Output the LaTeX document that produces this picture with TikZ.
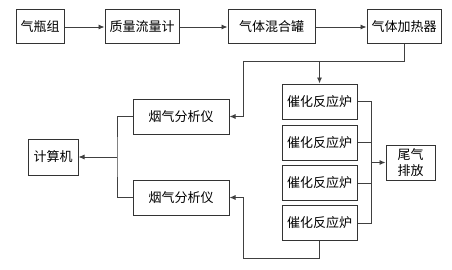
\documentclass[tikz,border=0pt]{standalone}
\usepackage{fontspec}
\newfontfamily\cjk{Noto Sans CJK SC}
\usetikzlibrary{arrows.meta}
\begin{document}
\begin{tikzpicture}[x=1pt,y=-1pt,
  boxn/.style={draw=black!80,line width=1pt,inner sep=0pt,minimum height=34pt,font=\cjk\fontsize{13}{15}\selectfont,align=center},
  ln/.style={draw=black!75,line width=0.9pt},
  arr/.style={ln,-{Latex[length=6pt,width=5pt]}}]
\fill[white] (0,0) rectangle (452,270);
\useasboundingbox (0,0) rectangle (452,270);
\node[boxn,minimum width=48pt] (b1) at (40,27) {气瓶组};
\node[boxn,minimum width=74pt] (b2) at (142,27) {质量流量计};
\node[boxn,minimum width=87pt] (b3) at (271.5,27) {气体混合罐};
\node[boxn,minimum width=74pt] (b4) at (404,27) {气体加热器};
\node[boxn,minimum width=75pt,minimum height=35pt] (r1) at (319.5,101.5) {催化反应炉};
\node[boxn,minimum width=75pt,minimum height=35pt] (r2) at (319.5,142.5) {催化反应炉};
\node[boxn,minimum width=75pt,minimum height=35pt] (r3) at (319.5,183) {催化反应炉};
\node[boxn,minimum width=75pt,minimum height=35pt] (r4) at (319.5,223) {催化反应炉};
\node[boxn,minimum width=96pt,minimum height=35pt] (a1) at (181,116.5) {烟气分析仪};
\node[boxn,minimum width=96pt,minimum height=35pt] (a2) at (181,197.5) {烟气分析仪};
\node[boxn,minimum width=50pt,minimum height=36pt] (c) at (53,157) {计算机};
\node[boxn,minimum width=49pt,minimum height=35pt,font=\cjk\fontsize{13}{16}\selectfont] (e) at (410.5,162.5) {尾气\\排放};
\coordinate (jl) at (243,61);
\coordinate (jb) at (243,258);
\coordinate (bx) at (117,157);
\coordinate (ex) at (371,162.5);
\draw[arr] (b1.east) -- (b2.west);
\draw[arr] (b2.east) -- (b3.west);
\draw[arr] (b3.east) -- (b4.west);
\draw[ln] (b4.south) |- (jl);
\draw[arr] (jl) |- (a1.east);
\draw[arr] (r1.north |- jl) -- (r1.north);
\draw[ln] (r4.south) |- (jb);
\draw[arr] (jb) |- (a2.east);
\draw[ln] (a1.west) -| (bx) |- (a2.west);
\draw[arr] (bx) -- (c.east);
\draw[ln] (r1.east) -| (ex |- r4.east) -- (r4.east);
\draw[ln] (r2.east) -- (r2.east -| ex);
\draw[ln] (r3.east) -- (r3.east -| ex);
\draw[arr] (ex) -- (e.west);
\end{tikzpicture}
\end{document}
